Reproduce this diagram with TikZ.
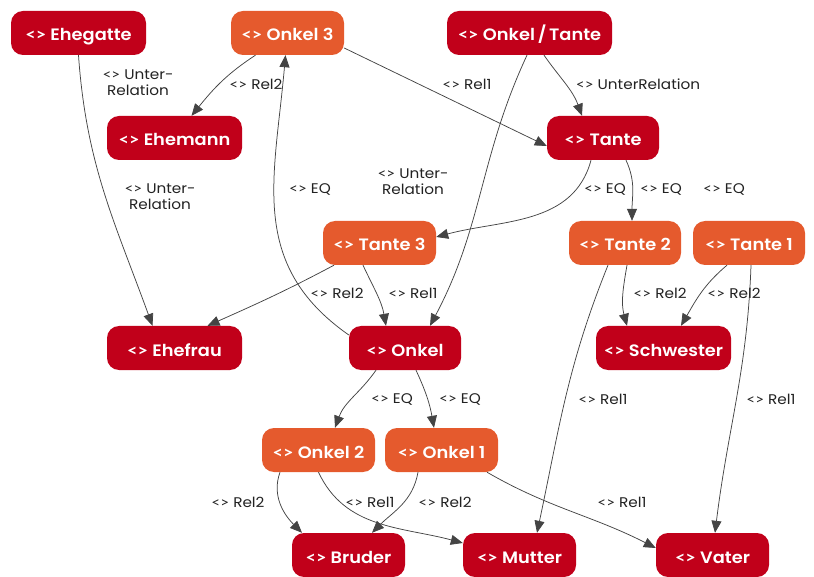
\documentclass[tikz,border=0pt]{standalone}
\usepackage{fontspec}
\setmainfont{Poppins}[FakeStretch=1.09]
\newfontfamily\nodefont{Poppins SemiBold}[FakeStretch=1.08]
\newfontfamily\ltfont{Lato}[FakeStretch=1.09]
\newcommand\angl{{\ltfont <>}}
\newcommand\anglb{{\ltfont\bfseries <>}}
\usetikzlibrary{arrows.meta}
\definecolor{nred}{RGB}{193,0,26}
\definecolor{norange}{RGB}{229,90,45}
\definecolor{edgec}{RGB}{68,68,68}
\definecolor{labc}{RGB}{34,34,34}
\begin{document}
\begin{tikzpicture}[x=1pt,y=1pt,
 box/.style={rounded corners=12pt, minimum height=44pt, text=white, font=\nodefont\fontsize{16.5}{18}\selectfont, inner sep=0pt, text height=16pt, text depth=0pt},
 redbox/.style={box, fill=nred},
 orbox/.style={box, fill=norange},
 lab/.style={font=\fontsize{14}{16}\selectfont, text=labc, align=center, inner sep=0pt},
 edge/.style={draw=edgec, line width=0.75pt, -{Triangle[length=12pt,width=10pt]}},
]
\useasboundingbox (0,0) rectangle (814,-577);
% nodes
\node[redbox, minimum width=135pt] (ehegatte) at (78.5,-33) {\anglb{} Ehegatte};
\node[orbox, minimum width=113pt] (onkel3) at (287.5,-33) {\anglb{} Onkel 3};
\node[redbox, minimum width=165pt] (onkeltante) at (529.5,-33) {\anglb{} Onkel\,/\,Tante};
\node[redbox, minimum width=135pt] (ehemann) at (174.5,-138) {\anglb{} Ehemann};
\node[redbox, minimum width=112pt] (tante) at (603,-138) {\anglb{} Tante};
\node[orbox, minimum width=113pt] (tante3) at (379.5,-243) {\anglb{} Tante 3};
\node[orbox, minimum width=112pt] (tante2) at (625,-243) {\anglb{} Tante 2};
\node[orbox, minimum width=112pt] (tante1) at (749,-243) {\anglb{} Tante 1};
\node[redbox, minimum width=135pt] (ehefrau) at (174.5,-348) {\anglb{} Ehefrau};
\node[redbox, minimum width=112pt] (onkel) at (405,-348) {\anglb{} Onkel};
\node[redbox, minimum width=135pt] (schwester) at (663.5,-348) {\anglb{} Schwester};
\node[orbox, minimum width=113pt] (onkel2) at (318.5,-450) {\anglb{} Onkel 2};
\node[orbox, minimum width=113pt] (onkel1) at (441.5,-450) {\anglb{} Onkel 1};
\node[redbox, minimum width=113pt] (bruder) at (348.5,-555) {\anglb{} Bruder};
\node[redbox, minimum width=113pt] (mutter) at (519.5,-555) {\anglb{} Mutter};
\node[redbox, minimum width=113pt] (vater) at (712.5,-555) {\anglb{} Vater};
% edges
\draw[edge] (ehegatte.south) to[out=-86,in=110] ([xshift=-22pt]ehefrau.north);
\draw[edge] ([xshift=-32pt]onkel3.south) to[out=-147,in=51] ([xshift=17pt]ehemann.north);
\draw[edge] ([yshift=-15pt]onkel3.east) -- ([yshift=-8pt]tante.west);
\draw[edge] ([yshift=13pt]onkel.west) to[out=145,in=-95,looseness=1.1] ([xshift=-2pt]onkel3.south);
\draw[edge] ([xshift=14.5pt]onkeltante.south) to[out=-55,in=110] ([xshift=-21pt]tante.north);
\draw[edge] ([xshift=-2.5pt]onkeltante.south) to[out=-115,in=62] ([xshift=25pt]onkel.north);
\draw[edge] ([xshift=-12pt]tante.south) to[out=-105,in=15] ([yshift=6pt]tante3.east);
\draw[edge] ([xshift=23pt]tante.south) to[out=-65,in=90] ([xshift=7pt]tante2.north);
\draw[edge] ([xshift=-45.5pt]tante3.south) to[out=-152,in=24] ([xshift=33pt]ehefrau.north);
\draw[edge] ([xshift=-16.5pt]tante3.south) to[out=-65,in=100] ([xshift=-19pt]onkel.north);
\draw[edge] ([xshift=2pt]tante2.south) to[out=-100,in=105] ([xshift=-36.5pt]schwester.north);
\draw[edge] ([xshift=-22pt]tante1.south) to[out=-140,in=60] ([xshift=17.5pt]schwester.north);
\draw[edge] ([xshift=-17pt]tante2.south) to[out=-112,in=78] ([xshift=17.5pt]mutter.north);
\draw[edge] ([xshift=2pt]tante1.south) to[out=-92,in=83] ([xshift=2.5pt]vater.north);
\draw[edge] ([xshift=-29pt]onkel.south) to[out=-125,in=70] ([xshift=16.5pt]onkel2.north);
\draw[edge] ([xshift=11pt]onkel.south) to[out=-65,in=100] ([xshift=-7.5pt]onkel1.north);
\draw[edge] ([xshift=-38.5pt]onkel2.south) to[out=-110,in=135] ([xshift=-46.5pt]bruder.north);
\draw[edge] (onkel2.south) to[out=-65,in=165] ([yshift=12pt]mutter.west);
\draw[edge] ([xshift=-23.5pt]onkel1.south) to[out=-100,in=45] ([xshift=23.5pt]bruder.north);
\draw[edge] ([xshift=45.5pt]onkel1.south) to[out=-30,in=153] ([yshift=7pt]vater.west);
% labels
\node[lab] (l1) at (138,-83) {\angl{} Unter-\\Relation};
\node[lab] (l2) at (256,-84) {\angl{} Rel2};
\node[lab] (l3) at (467,-84) {\angl{} Rel1};
\node[lab] (l4) at (638,-84) {\angl{} UnterRelation};
\node[lab] (l5) at (160,-197) {\angl{} Unter-\\Relation};
\node[lab] (l6) at (310,-189) {\angl{} EQ};
\node[lab] (l7) at (413,-182) {\angl{} Unter-\\Relation};
\node[lab] (l8) at (605,-189) {\angl{} EQ};
\node[lab] (l9) at (661,-189) {\angl{} EQ};
\node[lab] (l10) at (724,-189) {\angl{} EQ};
\node[lab] (l11) at (337,-293) {\angl{} Rel2};
\node[lab] (l12) at (413,-293) {\angl{} Rel1};
\node[lab] (l13) at (660,-293) {\angl{} Rel2};
\node[lab] (l14) at (734,-293) {\angl{} Rel2};
\node[lab] (l15) at (603,-399) {\angl{} Rel1};
\node[lab] (l16) at (771,-399) {\angl{} Rel1};
\node[lab] (l17) at (392,-399) {\angl{} EQ};
\node[lab] (l18) at (460,-399) {\angl{} EQ};
\node[lab] (l19) at (238,-502) {\angl{} Rel2};
\node[lab] (l20) at (370,-502) {\angl{} Rel1};
\node[lab] (l21) at (445,-502) {\angl{} Rel2};
\node[lab] (l22) at (622,-502) {\angl{} Rel1};
\end{tikzpicture}
\end{document}
